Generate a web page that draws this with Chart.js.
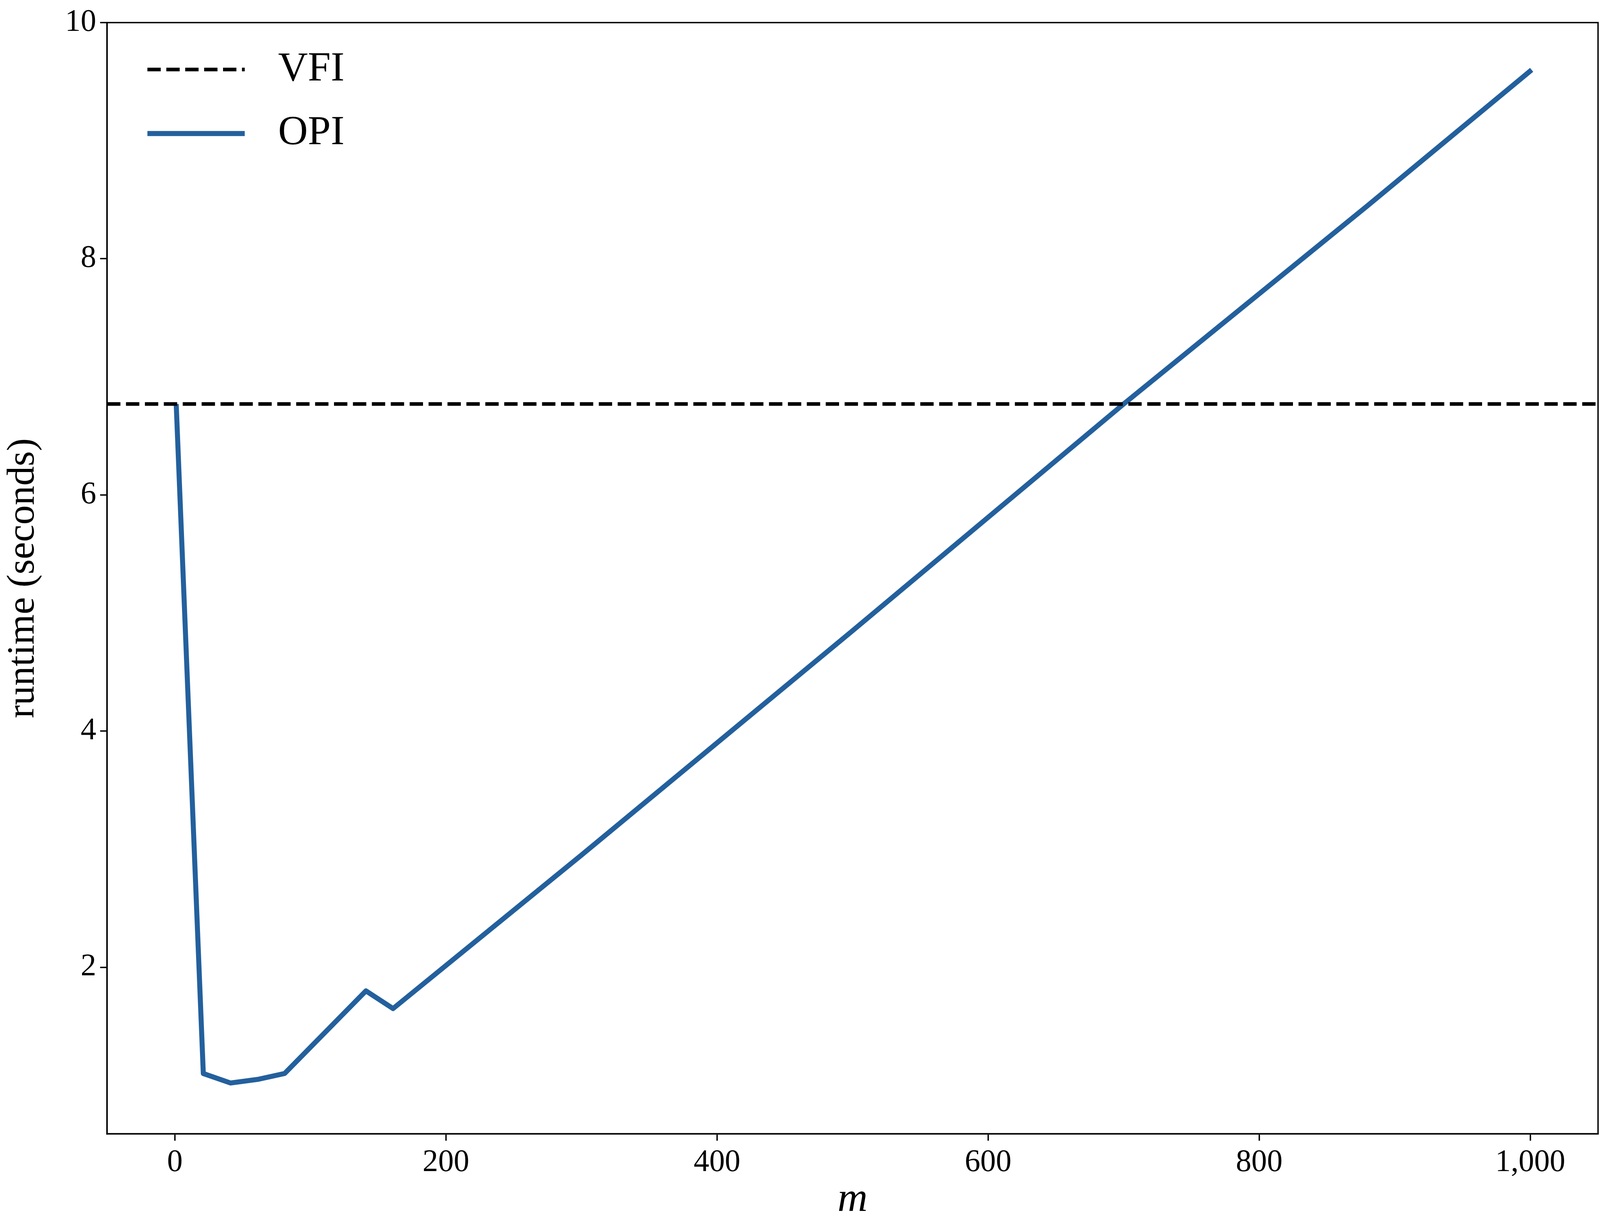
<!DOCTYPE html>
<html><head><meta charset="utf-8">
<script src="https://cdn.jsdelivr.net/npm/chart.js@4"></script>
<style>html,body{margin:0;padding:0;background:#fff;overflow:hidden}#w{width:100vw;height:100vh}canvas{display:block}</style>
</head><body>
<div id="w"><canvas id="c"></canvas></div>
<script>
const opiM = [1, 21, 41, 61, 81, 141, 161, 300, 500, 700, 880, 1001];
const opiRuntime = [6.77, 1.10, 1.02, 1.05, 1.10, 1.80, 1.65, 2.95, 4.85, 6.77, 8.45, 9.60];
const vfiM = [-50, 1050];
const vfiRuntime = [6.77, 6.77];
const xTicks = [0, 200, 400, 600, 800, 1000];
const yTicks = [2, 4, 6, 8, 10];
const FONT = "'Liberation Serif','DejaVu Serif',serif";
const BLUE = '#23609d';
const k = window.innerWidth / 5753;
const P = v => v * k;

const frame = {
  id: 'frame',
  afterDraw(ch) {
    const {ctx, chartArea: a} = ch;
    ctx.save();
    ctx.strokeStyle = '#000'; ctx.lineWidth = P(5);
    ctx.strokeRect(a.left, a.top, a.right - a.left, a.bottom - a.top);
    const items = [
      {label: 'VFI', color: '#000', w: P(13), dash: [P(48), P(20)]},
      {label: 'OPI', color: BLUE, w: P(18), dash: []}
    ];
    const x0 = P(530), x1 = P(880);
    items.forEach((it, i) => {
      const y = P(250 + i * 230);
      ctx.beginPath(); ctx.setLineDash(it.dash); ctx.lineWidth = it.w; ctx.strokeStyle = it.color;
      ctx.moveTo(x0, y); ctx.lineTo(x1, y); ctx.stroke();
      ctx.setLineDash([]);
      ctx.fillStyle = '#000'; ctx.font = `${P(148)}px ${FONT}`; ctx.textBaseline = 'middle';
      ctx.fillText(it.label, P(1000), y);
    });
    ctx.restore();
  }
};

new Chart(document.getElementById('c'), {
  type: 'line',
  data: {
    datasets: [
      {label: 'VFI', data: vfiM.map((m, i) => ({x: m, y: vfiRuntime[i]})), borderColor: '#000', borderWidth: P(13), borderDash: [P(48), P(20)], pointRadius: 0, fill: false},
      {label: 'OPI', data: opiM.map((m, i) => ({x: m, y: opiRuntime[i]})), borderColor: BLUE, borderWidth: P(18), pointRadius: 0, fill: false, borderJoinStyle: 'round'}
    ]
  },
  options: {
    responsive: true, maintainAspectRatio: false, animation: false,
    layout: {padding: {top: P(44), right: P(7), left: 0, bottom: 0}},
    plugins: {legend: {display: false}, tooltip: {enabled: false}},
    scales: {
      x: {
        type: 'linear', min: -50, max: 1050,
        afterBuildTicks: s => { s.ticks = xTicks.map(v => ({value: v})); },
        afterFit: s => { s.height = P(328); },
        grid: {drawOnChartArea: false, tickLength: P(25), color: '#000', lineWidth: P(5)},
        border: {display: true, color: '#000', width: P(5)},
        ticks: {color: '#000', font: {family: FONT, size: P(112)}, padding: P(12), maxRotation: 0},
        title: {display: true, text: 'm', color: '#000', font: {family: FONT, size: P(150), style: 'italic'}, padding: {top: 0, bottom: 0}}
      },
      y: {
        min: 0.59, max: 10,
        afterBuildTicks: s => { s.ticks = yTicks.map(v => ({value: v})); },
        afterFit: s => { s.width = P(385); },
        grid: {drawOnChartArea: false, tickLength: P(25), color: '#000', lineWidth: P(5)},
        border: {display: true, color: '#000', width: P(5)},
        ticks: {color: '#000', font: {family: FONT, size: P(112)}, padding: P(14)},
        title: {display: true, text: 'runtime (seconds)', color: '#000', font: {family: FONT, size: P(140)}, padding: {top: 0, bottom: P(20)}}
      }
    }
  },
  plugins: [frame]
});
</script>
</body></html>
